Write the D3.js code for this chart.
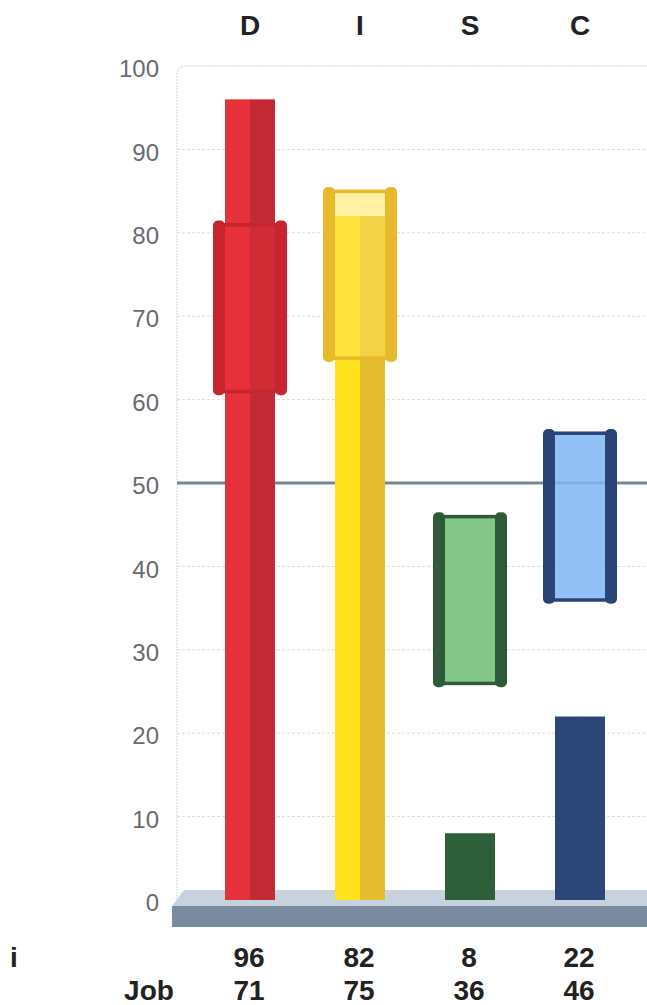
<!DOCTYPE html>
<html>
<head>
<meta charset="utf-8">
<script src="https://cdn.jsdelivr.net/npm/d3@7"></script>
<style>
  body { margin: 0; background: #fff; }
  text { font-family: "Liberation Sans", Arial, sans-serif; }
</style>
</head>
<body>
<div id="chart"></div>
<script>
// DISC values
const factors = ["D", "I", "S", "C"];
const scores = [96, 82, 8, 22];        // row "i"
const jobTargets = [71, 75, 36, 46];   // row "Job"
const jobLow = [61, 65, 26, 36];
const jobHigh = [81, 85, 46, 56];
const yTicks = [0, 10, 20, 30, 40, 50, 60, 70, 80, 90, 100];
const midLine = 50;

// colours per factor
const barLight = ["#e6303a", "#ffe31c", "#2f5e3b", "#2b4677"];
const barDark = ["#c42a35", "#e5bd2f", "#2f5e3b", "#2b4677"];
const postColor = ["#c7242f", "#e8b92b", "#2d5a38", "#2a4475"];
const boxFill = ["#e8303a", "#ffe45a", "#6fbd73", "#80b5f3"];
const boxOpacity = [0.35, 0.55, 0.85, 0.85];

const width = 647, height = 1005;
const svg = d3.select("#chart").append("svg")
  .attr("width", width)
  .attr("height", height);

const x = d3.scalePoint().domain(factors).range([195, 635]).padding(0.5);
const y = d3.scaleLinear().domain([0, 100]).range([900, 66]);

const barW = 50, boxW = 74, postW = 12;

// frame round the plot, light dashed
svg.append("path")
  .attr("d", "M177," + y(0) + " V" + (y(100) + 10) + " Q177," + y(100) + " 187," + y(100) + " H" + width)
  .attr("fill", "none")
  .attr("stroke", "#d4d4d8")
  .attr("stroke-dasharray", "2,1");

// faint grid lines
svg.selectAll(".grid").data(yTicks.filter(d => d > 0 && d < 100 && d !== midLine))
  .enter().append("line")
  .attr("x1", 177).attr("x2", width)
  .attr("y1", d => y(d)).attr("y2", d => y(d))
  .attr("stroke", "#dcdce0")
  .attr("stroke-dasharray", "3,2");

// y axis labels
const yAxis = d3.axisLeft(y).tickValues(yTicks).tickSize(0).tickPadding(0);
const gy = svg.append("g").attr("transform", "translate(159,3)").call(yAxis);
gy.select(".domain").remove();
gy.selectAll("text")
  .attr("font-size", "24px")
  .attr("font-family", "'Liberation Sans', Arial, sans-serif")
  .attr("fill", "#6a6a6e");

// ground slab
svg.append("polygon")
  .attr("points", [[172, 906], [184, 890], [width, 890], [width, 906]].join(" "))
  .attr("fill", "#c6d3df");
svg.append("rect")
  .attr("x", 172).attr("y", 906)
  .attr("width", width - 172).attr("height", 21)
  .attr("fill", "#7a8a9f");

// the 50 line
svg.append("line")
  .attr("x1", 177).attr("x2", width)
  .attr("y1", y(midLine)).attr("y2", y(midLine))
  .attr("stroke", "#7b8593")
  .attr("stroke-width", 3);

// score bars, left half light, right half dark
const bars = svg.selectAll(".bar").data(factors).enter().append("g");
bars.append("rect")
  .attr("x", d => x(d) - barW / 2)
  .attr("y", (d, i) => y(scores[i]))
  .attr("width", barW / 2 + 0.5)
  .attr("height", (d, i) => y(0) - y(scores[i]))
  .attr("fill", (d, i) => barLight[i]);
bars.append("rect")
  .attr("x", d => x(d))
  .attr("y", (d, i) => y(scores[i]))
  .attr("width", barW / 2)
  .attr("height", (d, i) => y(0) - y(scores[i]))
  .attr("fill", (d, i) => barDark[i]);

// job range boxes
const boxes = svg.selectAll(".box").data(factors).enter().append("g");
boxes.append("rect")
  .attr("x", d => x(d) - boxW / 2 + postW)
  .attr("y", (d, i) => y(jobHigh[i]))
  .attr("width", boxW - 2 * postW)
  .attr("height", (d, i) => y(jobLow[i]) - y(jobHigh[i]))
  .attr("fill", (d, i) => boxFill[i])
  .attr("fill-opacity", (d, i) => boxOpacity[i]);
// top and bottom edges
[jobHigh, jobLow].forEach(function (edge) {
  boxes.append("rect")
    .attr("x", d => x(d) - boxW / 2 + postW - 1)
    .attr("y", (d, i) => y(edge[i]) - 1.5)
    .attr("width", boxW - 2 * postW + 2)
    .attr("height", 3.5)
    .attr("fill", (d, i) => postColor[i]);
});
// side posts
[-1, 1].forEach(function (side) {
  boxes.append("rect")
    .attr("x", d => side < 0 ? x(d) - boxW / 2 : x(d) + boxW / 2 - postW)
    .attr("y", (d, i) => y(jobHigh[i]) - 4)
    .attr("width", postW)
    .attr("height", (d, i) => y(jobLow[i]) - y(jobHigh[i]) + 8)
    .attr("rx", 5)
    .attr("fill", (d, i) => postColor[i]);
});

// factor headers
svg.selectAll(".head").data(factors).enter().append("text")
  .attr("x", d => x(d))
  .attr("y", 35)
  .attr("text-anchor", "middle")
  .attr("font-size", "28px")
  .attr("font-weight", "bold")
  .attr("fill", "#222")
  .text(d => d);

// value rows under the chart
const rows = [{ label: "i", vals: scores, yPos: 967, lx: 14 }, { label: "Job", vals: jobTargets, yPos: 1000, lx: 149 }];
rows.forEach(function (r) {
  svg.append("text")
    .attr("x", r.lx).attr("y", r.yPos)
    .attr("text-anchor", "middle")
    .attr("font-size", "28px").attr("font-weight", "bold")
    .attr("fill", "#222")
    .text(r.label);
  svg.selectAll(null).data(r.vals).enter().append("text")
    .attr("x", (d, i) => x(factors[i]) - 1)
    .attr("y", r.yPos)
    .attr("text-anchor", "middle")
    .attr("font-size", "28px").attr("font-weight", "bold")
    .attr("fill", "#222")
    .text(d => d);
});
</script>
</body>
</html>
